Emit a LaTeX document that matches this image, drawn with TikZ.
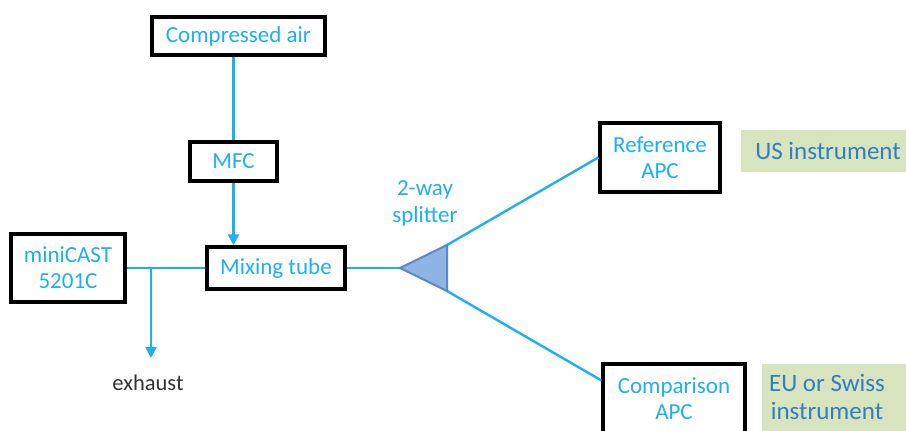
\documentclass[tikz,border=0pt]{standalone}
\usepackage{fontspec}
\setmainfont{Carlito}
\usetikzlibrary{arrows.meta,calc}
\definecolor{flow}{HTML}{1CB0F0}
\definecolor{labelblue}{HTML}{2F7FC1}
\definecolor{tagfill}{HTML}{D7E4BD}
\definecolor{splitfill}{HTML}{8EB4E3}
\definecolor{splitedge}{HTML}{5B86C8}
\definecolor{darktext}{HTML}{333333}
\tikzset{
  box/.style={draw=black, line width=3.4pt, fill=white, text=flow,
    font=\fontsize{23}{26}\selectfont, align=center, inner sep=0pt},
  pipe/.style={draw=flow, line width=2.4pt},
  pipearrow/.style={pipe, -{Triangle[length=11pt,width=11pt]}},
  tagtext/.style={text=labelblue, font=\fontsize{25}{28}\selectfont, align=center, inner sep=0pt},
}
\begin{document}
\begin{tikzpicture}[x=1pt,y=-1pt]
\useasboundingbox (0,0) rectangle (906,431);

% instrument tags
\fill[tagfill] (741,130) rectangle (912,172);
\node[tagtext] (us) at (828,151) {US instrument};
\fill[tagfill] (762,364) rectangle (912,437);
\node[tagtext] (eu) at (827,397) {EU or Swiss\\instrument};

% equipment boxes
\node[box, minimum width=173pt, minimum height=38pt] (air) at (238.5,36) {Compressed air};
\node[box, minimum width=87pt, minimum height=39pt] (mfc) at (233.5,161.5) {MFC};
\node[box, minimum width=138pt, minimum height=42pt] (mix) at (276,268) {Mixing tube};
\node[box, minimum width=114pt, minimum height=68pt] (cast) at (68,268) {miniCAST\\5201C};
\node[box, minimum width=120pt, minimum height=69pt] (ref) at (660,157.5) {Reference\\APC};
\node[box, minimum width=142pt, minimum height=69pt] (cmp) at (674,398.5) {Comparison\\APC};

% splitter
\coordinate (tip) at (400,268);
\coordinate (sA) at (447,245);
\coordinate (sB) at (447,291);
\node[text=flow, font=\fontsize{23}{27}\selectfont, align=center] (splitlbl) at (425,203) {2-way\\splitter};

% flow lines
\draw[pipe] (mfc.north |- air.south) -- (mfc.north);
\draw[pipearrow] (mfc.south) -- (mix.north -| mfc.south);
\draw[pipe] (cast.east) -- (mix.west);
\coordinate (j) at (151,268);
\coordinate (exh) at (151,358);
\draw[pipearrow] (j) -- (exh);
\node[text=darktext, font=\fontsize{22.5}{27}\selectfont] (exlbl) at (148,383) {exhaust};
\draw[pipe] (mix.east) -- (tip);
\draw[pipe] (sA) -- (ref.west);
\draw[pipe] (sB) -- ($(cmp.north west)!0.25!(cmp.south west)$);
\filldraw[fill=splitfill, draw=splitedge, line width=2pt, line join=round] (tip) -- (sA) -- (sB) -- cycle;
\end{tikzpicture}
\end{document}
